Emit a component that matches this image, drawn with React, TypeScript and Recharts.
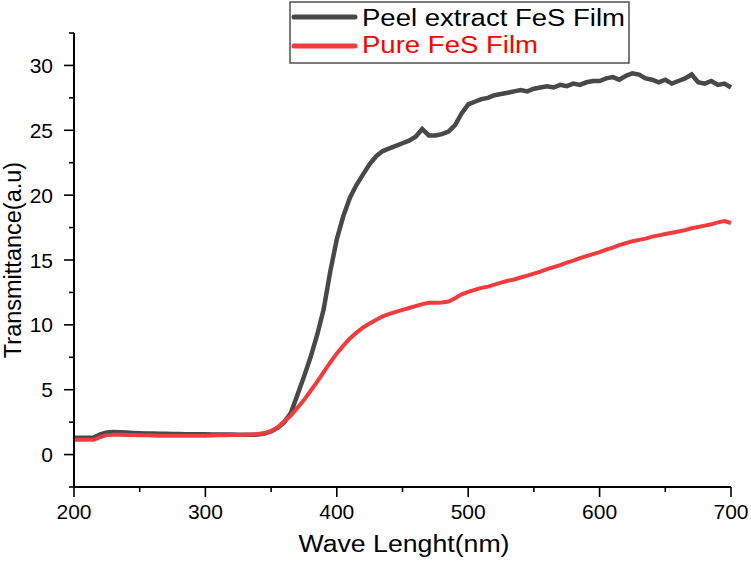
import React from 'react';
import { LineChart, Line, XAxis, YAxis, Label } from 'recharts';

const FONT = '"Liberation Sans", Arial, sans-serif';
const PEEL_COLOR = '#484848';
const PURE_COLOR = '#f03c3c';

// wavelength (nm)
const wavelengths = [
  200, 205, 210, 215, 220, 225, 230, 235, 240, 245, 250, 255, 260, 265, 270, 275, 280, 285, 290, 295,
  300, 305, 310, 315, 320, 325, 330, 335, 340, 345, 350, 355, 360, 365, 370, 375, 380, 385, 390, 395,
  400, 405, 410, 415, 420, 425, 430, 435, 440, 445, 450, 455, 460, 465, 470, 475, 480, 485, 490, 495,
  500, 505, 510, 515, 520, 525, 530, 535, 540, 545, 550, 555, 560, 565, 570, 575, 580, 585, 590, 595,
  600, 605, 610, 615, 620, 625, 630, 635, 640, 645, 650, 655, 660, 665, 670, 675, 680, 685, 690, 695,
  700,
];

// Peel extract FeS Film
const peelValues = [
  1.3, 1.3, 1.3, 1.32, 1.55, 1.7, 1.74, 1.73, 1.7, 1.67, 1.65, 1.63, 1.62, 1.61, 1.6, 1.59, 1.58, 1.57, 1.57, 1.56,
  1.56, 1.55, 1.55, 1.54, 1.54, 1.53, 1.53, 1.52, 1.54, 1.62, 1.78, 2.05, 2.5, 3.2, 4.6, 6.0, 7.5, 9.2, 11.2, 14.1,
  16.6, 18.4, 19.8, 20.8, 21.6, 22.4, 23.0, 23.4, 23.6, 23.8, 24.0, 24.2, 24.5, 25.1, 24.6, 24.6, 24.7, 24.9, 25.4, 26.3,
  27.0, 27.2, 27.4, 27.5, 27.7, 27.8, 27.9, 28.0, 28.1, 28.0, 28.2, 28.3, 28.4, 28.3, 28.5, 28.4, 28.6, 28.5, 28.7, 28.8,
  28.8, 29.0, 29.1, 28.9, 29.2, 29.4, 29.3, 29.0, 28.9, 28.7, 28.9, 28.6, 28.8, 29.0, 29.3, 28.7, 28.6, 28.8, 28.5, 28.6,
  28.3,
];

// Pure FeS Film
const pureValues = [
  1.15, 1.15, 1.14, 1.14, 1.35, 1.5, 1.52, 1.52, 1.51, 1.5, 1.49, 1.48, 1.47, 1.46, 1.46, 1.45, 1.45, 1.45, 1.45, 1.46,
  1.46, 1.47, 1.48, 1.49, 1.5, 1.51, 1.52, 1.54, 1.58, 1.65, 1.8, 2.1, 2.55, 3.0, 3.6, 4.2, 4.9, 5.6, 6.35, 7.1,
  7.8, 8.4, 8.95, 9.4, 9.8, 10.1, 10.4, 10.65, 10.85, 11.0, 11.15, 11.3, 11.45, 11.6, 11.7, 11.7, 11.72, 11.8, 12.05, 12.35,
  12.55, 12.7, 12.85, 12.95, 13.1, 13.25, 13.4, 13.5, 13.65, 13.8, 13.95, 14.1, 14.3, 14.45, 14.6, 14.8, 14.95, 15.15, 15.3, 15.45,
  15.6, 15.8, 15.95, 16.15, 16.3, 16.45, 16.55, 16.65, 16.8, 16.9, 17.0, 17.1, 17.2, 17.3, 17.45, 17.55, 17.65, 17.75, 17.9, 18.0,
  17.85,
];

const xTicks = [200, 250, 300, 350, 400, 450, 500, 550, 600, 650, 700];
const yTicks = [-2.5, 0, 2.5, 5, 7.5, 10, 12.5, 15, 17.5, 20, 22.5, 25, 27.5, 30, 32.5];

const seriesNames = ['Peel extract FeS Film', 'Pure FeS Film'];

const data = wavelengths.map((wl, i) => ({ wl, peel: peelValues[i], pure: pureValues[i] }));

const isMajor = (v: number, step: number) => Math.abs(v % step) < 1e-6;

function XTick({ x, y, payload }: any) {
  const major = isMajor(payload.value, 100);
  return (
    <g>
      <line x1={x} x2={x} y1={y} y2={y + (major ? 10 : 5)} stroke="#000" strokeWidth={1.6} />
      {major && (
        <text x={x} y={y + 32} textAnchor="middle" fontSize={21} fontFamily={FONT} fill="#000">
          {payload.value}
        </text>
      )}
    </g>
  );
}

function YTick({ x, y, payload }: any) {
  const major = isMajor(payload.value, 5);
  return (
    <g>
      <line x1={x} x2={x - (major ? 10 : 5)} y1={y} y2={y} stroke="#000" strokeWidth={1.6} />
      {major && (
        <text x={x - 21} y={y + 7.5} textAnchor="end" fontSize={21} fontFamily={FONT} fill="#000">
          {payload.value}
        </text>
      )}
    </g>
  );
}

// legend box drawn on its own, over the top of the plot
function LegendBox() {
  return (
    <svg width={342} height={64} style={{ display: 'block', overflow: 'visible' }}>
      <rect x={1} y={1} width={339} height={61} fill="#fff" stroke="#444" strokeWidth={1.4} />
      <line x1={5} x2={66} y1={16} y2={16} stroke={PEEL_COLOR} strokeWidth={5} strokeLinecap="round" />
      <line x1={5} x2={66} y1={45} y2={45} stroke={PURE_COLOR} strokeWidth={5} strokeLinecap="round" />
      <text x={73} y={25} fontSize={23.5} fontFamily={FONT} fill="#000" textLength={263} lengthAdjust="spacingAndGlyphs">
        {seriesNames[0]}
      </text>
      <text x={73} y={52} fontSize={23.5} fontFamily={FONT} fill="#ff0000" textLength={176} lengthAdjust="spacingAndGlyphs">
        {seriesNames[1]}
      </text>
    </svg>
  );
}

export default function App() {
  return (
    <div style={{ position: 'absolute', left: 0, top: 0, width: 751, height: 562, background: '#fff' }}>
      <LineChart width={751} height={562} data={data} margin={{ top: 33, right: 20, bottom: 0, left: 0 }}>
        <XAxis
          dataKey="wl"
          type="number"
          domain={[200, 700]}
          ticks={xTicks}
          interval={0}
          height={75}
          tickSize={0}
          tickMargin={0}
          axisLine={{ stroke: '#000', strokeWidth: 2 }}
          tickLine={false}
          tick={<XTick />}
        >
          <Label
            content={() => (
              <text x={404} y={552} textAnchor="middle" fontSize={23.5} fontFamily={FONT} fill="#000" textLength={211} lengthAdjust="spacingAndGlyphs">
                Wave Lenght(nm)
              </text>
            )}
          />
        </XAxis>
        <YAxis
          type="number"
          domain={[-2.5, 32.5]}
          ticks={yTicks}
          interval={0}
          width={74}
          tickSize={0}
          tickMargin={0}
          axisLine={{ stroke: '#000', strokeWidth: 2 }}
          tickLine={false}
          tick={<YTick />}
        >
          <Label
            content={() => (
              <text x={21} y={260} transform="rotate(-90 21 260)" textAnchor="middle" fontSize={23.5} fontFamily={FONT} fill="#000">
                Transmittance(a.u)
              </text>
            )}
          />
        </YAxis>
        <Line
          dataKey="peel"
          name={seriesNames[0]}
          stroke={PEEL_COLOR}
          strokeWidth={4.5}
          dot={false}
          type="linear"
          isAnimationActive={false}
        />
        <Line
          dataKey="pure"
          name={seriesNames[1]}
          stroke={PURE_COLOR}
          strokeWidth={4}
          dot={false}
          type="linear"
          isAnimationActive={false}
        />
      </LineChart>
      <div style={{ position: 'absolute', left: 289, top: 1 }}>
        <LegendBox />
      </div>
    </div>
  );
}
